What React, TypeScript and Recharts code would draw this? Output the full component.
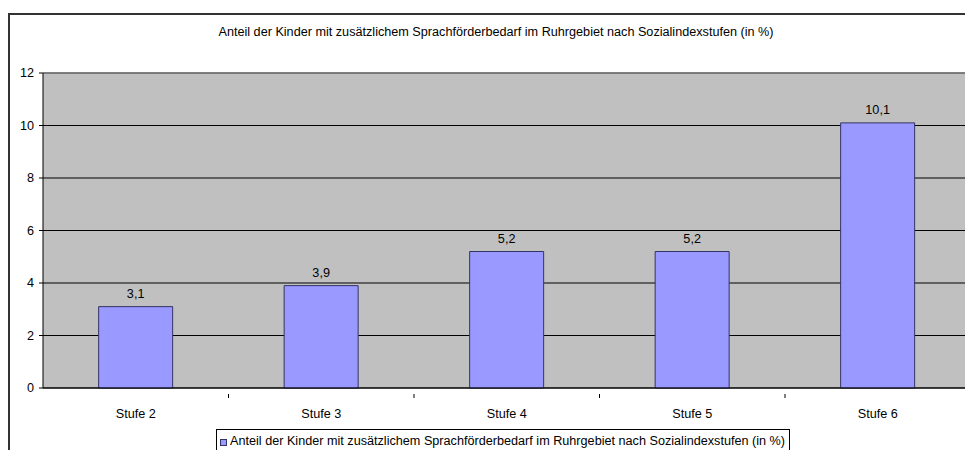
import { BarChart, Bar, XAxis, YAxis, CartesianGrid, LabelList, Legend, ReferenceLine } from 'recharts';

const stufen = ['Stufe 2', 'Stufe 3', 'Stufe 4', 'Stufe 5', 'Stufe 6'];
const anteil = [3.1, 3.9, 5.2, 5.2, 10.1];
const yTicks = [0, 2, 4, 6, 8, 10, 12];

const seriesName = 'Anteil der Kinder mit zusätzlichem Sprachförderbedarf im Ruhrgebiet nach Sozialindexstufen (in %)';

const data = stufen.map((s, i) => ({ stufe: s, wert: anteil[i] }));

const font = '"Liberation Sans", Arial, sans-serif';
const fs = 12.65;
const halfBand = 92.75;

const CategoryTick = (props: any) => {
  const { x, y, payload, index } = props;
  return (
    <g>
      {index < stufen.length - 1 && (
        <line x1={x + halfBand} x2={x + halfBand} y1={y - 2} y2={y + 2} stroke="#000" />
      )}
      <text x={x} y={y + 22} textAnchor="middle" fontSize={fs} fontFamily={font} fill="#000">
        {payload.value}
      </text>
    </g>
  );
};

const LegendBox = () => (
  <div
    style={{
      display: 'inline-flex',
      alignItems: 'center',
      border: '1px solid #000',
      background: '#fff',
      padding: '4px 4px 6px 3px',
      fontFamily: font,
      fontSize: fs,
      lineHeight: '14px',
      color: '#000',
      whiteSpace: 'nowrap',
    }}
  >
    <span
      style={{
        display: 'inline-block',
        width: 5,
        height: 5,
        background: '#9999FF',
        border: '1px solid #333366',
        marginRight: 3,
        marginTop: 3,
      }}
    />
    {seriesName}
  </div>
);

export default function App() {
  return (
    <div style={{ position: 'fixed', left: 0, top: 0, width: 965, height: 450, overflow: 'hidden', background: '#fff' }}>
      <div
        style={{
          position: 'absolute',
          left: 8,
          top: 13,
          width: 2000,
          height: 1000,
          border: '2px solid #333',
          boxSizing: 'border-box',
        }}
      />
      <div
        style={{
          position: 'absolute',
          left: 0,
          top: 25,
          width: 992,
          textAlign: 'center',
          fontFamily: font,
          fontSize: fs,
          lineHeight: '14px',
          color: '#000',
          whiteSpace: 'nowrap',
        }}
      >
        {seriesName}
      </div>
      <div style={{ position: 'absolute', left: 0, top: 0 }}>
        <BarChart
          width={990}
          height={470}
          data={data}
          margin={{ top: 73, right: 19.5, bottom: 52, left: 0 }}
          barCategoryGap="30%"
        >
          <CartesianGrid vertical={false} fill="#C0C0C0" stroke="#000" strokeOpacity={1} />
          <ReferenceLine y={12} stroke="#808080" strokeWidth={1.5} />
          <XAxis
            dataKey="stufe"
            axisLine={{ stroke: '#000' }}
            tickLine={false}
            tick={<CategoryTick />}
            interval={0}
            height={30}
          />
          <YAxis
            width={43}
            domain={[0, 12]}
            ticks={yTicks}
            interval={0}
            axisLine={{ stroke: '#000' }}
            tickLine={{ stroke: '#000' }}
            tickSize={4}
            tickMargin={5}
            tick={{ fontSize: fs, fontFamily: font, fill: '#000' }}
          />
          <Legend
            layout="horizontal"
            verticalAlign="middle"
            content={() => <LegendBox />}
            wrapperStyle={{ position: 'absolute', left: 216, top: 429, width: 'auto', height: 'auto' }}
          />
          <Bar dataKey="wert" name={seriesName} fill="#9999FF" stroke="#333366" strokeWidth={1} isAnimationActive={false}>
            <LabelList
              dataKey="wert"
              position="top"
              offset={9}
              formatter={(v: any) => String(v).replace('.', ',')}
              style={{ fontSize: fs, fontFamily: font, fill: '#000' }}
            />
          </Bar>
        </BarChart>
      </div>
    </div>
  );
}
